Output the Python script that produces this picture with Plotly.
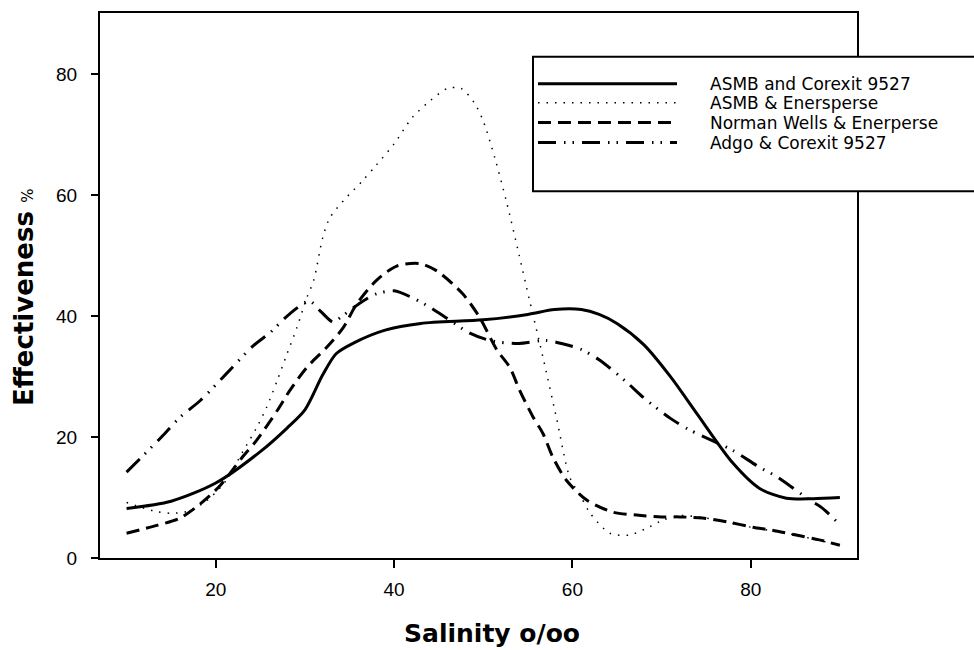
import plotly.graph_objects as go

# ---- data ----
sal_solid = [10, 15, 20, 25, 28, 30, 32, 33.5, 35.5, 39, 43, 50, 55, 58, 61, 63, 65, 68, 71, 74, 78, 81, 84, 87, 90]
asmb_corexit = [8.2, 9.4, 12.4, 17.6, 21.5, 24.5, 30.3, 33.8, 35.6, 37.7, 38.8, 39.4, 40.3, 41.1, 41.1, 40.3, 38.8, 35.3, 30, 23.8, 15.7, 11.5, 9.9, 9.8, 10]

sal_dotted = [10, 13, 15, 17, 19, 21, 23, 24.6, 25.7, 26.9, 28, 29.1, 30.2, 31, 32, 32.8, 34.5, 36.4, 38, 40, 42, 44, 46, 47.5,
              49, 50, 51.3, 52.6, 54, 55.2, 56.7, 58.2, 59.7, 61, 62, 64.2, 66.4, 68.3, 70.2, 72, 75, 80, 85, 90]
asmb_enersperse = [9.2, 7.8, 7.4, 7.8, 9.5, 12.5, 17.5, 21.6, 24.9, 29.4, 33.8, 38.1, 43, 46, 53, 56.3, 59.4, 62.3, 65, 68.5, 72.8, 75.6, 77.7, 77.7,
                   75.3, 72.3, 66.2, 59, 50.3, 42.6, 33.2, 23.3, 13.4, 10, 7.4, 4.1, 3.8, 4.9, 6.3, 7, 6.6, 5.1, 3.8, 2.1]

sal_dashed = [10, 13.4, 16, 18.3, 20.5, 23, 24.6, 26.9, 28.3, 30.2, 32.4, 34.3, 35.8, 38, 40.3, 42.9, 44.8, 47.7, 49.6, 51.5, 53,
              54.1, 55.6, 56.7, 57.8, 59.3, 61.6, 64.5, 67.2, 70, 72, 74.6, 77.6, 80.2, 82.4, 85.1, 87.7, 90]
norman_enersperse = [4.1, 5.4, 6.6, 9, 12, 16.7, 19.5, 24.4, 27.7, 31.5, 34.8, 38.1, 42, 45.9, 48.3, 48.7, 47.5, 43.7, 39.8, 34.5, 31.5,
                     27.7, 23.3, 20.6, 16.7, 12.9, 9.6, 7.6, 7.1, 6.8, 6.8, 6.6, 5.9, 5.1, 4.6, 3.8, 3, 2.1]

sal_dashdot = [10, 11.9, 14.1, 16, 18.3, 21.2, 24.2, 26.1, 28.3, 30.5, 31.7, 33.2, 34, 36, 38, 40, 42, 44, 46, 48.5, 51, 54, 57, 59,
               61, 63, 66, 68, 71, 73, 76, 78, 81, 83, 86.6, 88, 90]
adgo_corexit = [14.2, 17, 20.3, 23.3, 26.1, 30.5, 35.1, 37.3, 40.4, 42.5, 40.9, 39, 39.8, 42, 43.7, 44.2, 43.1, 41.5, 39.6, 37.2, 35.9, 35.5, 36, 35.4,
                34.5, 32.8, 29.2, 26.5, 23.1, 21.3, 19.2, 17.8, 15, 13.4, 9.6, 8.3, 5.5]

series_names = ["ASMB and Corexit 9527", "ASMB & Enersperse", "Norman Wells & Enerperse", "Adgo & Corexit 9527"]
x_ticks = [20, 40, 60, 80]
y_ticks = [0, 20, 40, 60, 80]

# ---- layout geometry (pixels) ----
W, H = 974, 650
L, R, T, B = 100, 857, 11, 558
PW, PH = R - L, B - T


def px(xp):
    return (xp - L) / PW


def py(yp):
    return (B - yp) / PH


styles = [
    dict(color="black", width=3, dash="solid"),
    dict(color="black", width=1.5, dash="1.5px,7px"),
    dict(color="black", width=3, dash="13px,7px"),
    dict(color="black", width=3, dash="18px,8px,1.5px,7px,1.5px,8px"),
]
data = [(sal_solid, asmb_corexit), (sal_dotted, asmb_enersperse), (sal_dashed, norman_enersperse), (sal_dashdot, adgo_corexit)]

fig = go.Figure()
for (xs, ys), name, st in zip(data, series_names, styles):
    fig.add_trace(go.Scatter(x=xs, y=ys, mode="lines", name=name, line=dict(shape="spline", smoothing=0.8, **st),
                             showlegend=False))

tickfont = dict(family="Liberation Sans, Arial", size=19, color="black")
fig.update_xaxes(range=[7.02, 91.92], tickvals=x_ticks, ticks="outside", ticklen=8, tickwidth=2, tickcolor="black",
                 showline=True, linecolor="black", linewidth=2, mirror=True, showgrid=False, zeroline=False,
                 tickfont=tickfont, ticklabelstandoff=5)
fig.update_yaxes(range=[0, 90.17], tickvals=y_ticks, ticks="outside", ticklen=7, tickwidth=2, tickcolor="black",
                 showline=True, linecolor="black", linewidth=2, mirror=True, showgrid=False, zeroline=False,
                 tickfont=tickfont, ticklabelstandoff=10)

shapes = []
annotations = []
# legend box (extends past the right edge as in the reference)
shapes.append(dict(type="rect", xref="paper", yref="paper", x0=px(533), x1=px(990), y0=py(190), y1=py(55),
                   line=dict(color="black", width=2), fillcolor="white", layer="above"))
rows = [82, 101, 121, 141]
for yrow, name, st in zip(rows, series_names, styles):
    shapes.append(dict(type="line", xref="paper", yref="paper", x0=px(538), x1=px(677), y0=py(yrow), y1=py(yrow),
                       line=dict(color="black", width=st["width"], dash=st["dash"]), layer="above"))
    annotations.append(dict(xref="paper", yref="paper", x=px(708), y=py(yrow), xanchor="left", yanchor="middle",
                            text=name, showarrow=False,
                            font=dict(family="DejaVu Sans", size=17, color="black")))

# axis titles
annotations.append(dict(xref="paper", yref="paper", x=px(492), y=py(634), xanchor="center", yanchor="middle",
                        text="<b>Salinity o/oo</b>", showarrow=False,
                        font=dict(family="DejaVu Sans", size=25, color="black")))
annotations.append(dict(xref="paper", yref="paper", x=px(24), y=py(297), xanchor="center", yanchor="middle",
                        text="<b>Effectiveness</b> <span style='font-size:15px'>%</span>", showarrow=False, textangle=-90,
                        font=dict(family="DejaVu Sans", size=26, color="black")))

fig.update_layout(width=W, height=H, margin=dict(l=L, r=W - R, t=T, b=H - B, pad=0),
                  paper_bgcolor="white", plot_bgcolor="white", shapes=shapes, annotations=annotations,
                  showlegend=False)

fig.write_html("out.html")
